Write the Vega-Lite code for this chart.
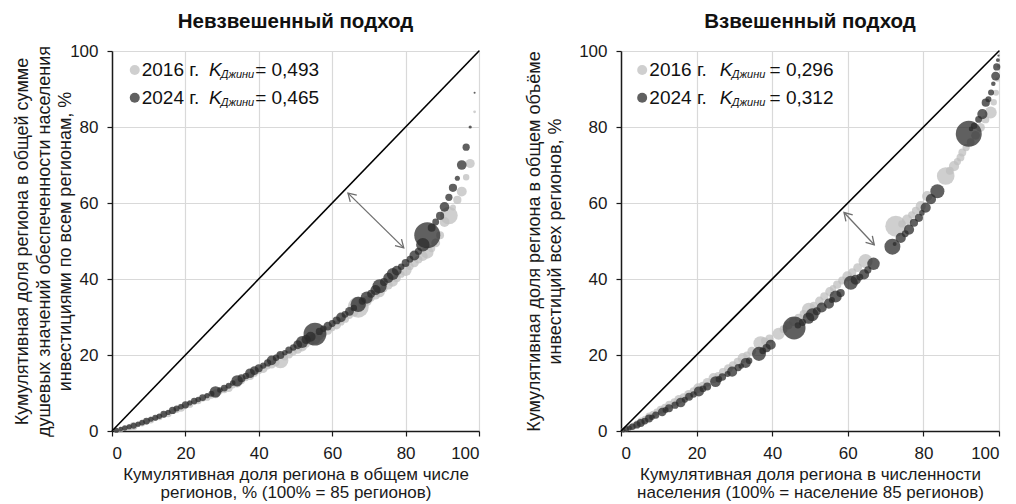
{
"$schema": "https://vega.github.io/schema/vega-lite/v6.json",
"padding": {"left": 13, "top": 11, "right": 5, "bottom": 2},
"spacing": 42,
"config": {
  "font": "Liberation Sans",
  "view": {"stroke": null},
  "axis": {"labelFont": "Liberation Sans", "labelFontSize": 17, "labelColor": "#1a1a1a", "labelPadding": 9,
           "titleFont": "Liberation Sans", "titleFontWeight": "normal", "titleColor": "#1a1a1a",
           "gridColor": "#d9d9d9", "gridWidth": 1.2, "domainColor": "#1a1a1a", "domainWidth": 1.5,
           "tickColor": "#1a1a1a", "tickSize": 5, "tickWidth": 1.2},
  "axisX": {"titleFontSize": 17, "titleLineHeight": 18.5, "titlePadding": 5, "labelPadding": 9},
  "axisY": {"titleFontSize": 18, "titleLineHeight": 21.5},
  "title": {"font": "Liberation Sans", "fontSize": 20.5, "fontWeight": "bold", "color": "#111111", "offset": 10}
},
"datasets": {
  "L": [
    {"yr":"2016","x":1.2,"y":0.2,"p":0.5},{"yr":"2016","x":2.4,"y":0.4,"p":0.6},{"yr":"2016","x":3.5,"y":0.7,"p":0.4},{"yr":"2016","x":4.7,"y":1.0,"p":0.8},{"yr":"2016","x":5.9,"y":1.3,"p":1.2},
    {"yr":"2016","x":7.1,"y":1.7,"p":0.5},{"yr":"2016","x":8.2,"y":2.0,"p":0.7},{"yr":"2016","x":9.4,"y":2.4,"p":0.6},{"yr":"2016","x":10.6,"y":2.9,"p":0.9},{"yr":"2016","x":11.8,"y":3.3,"p":0.5},
    {"yr":"2016","x":12.9,"y":3.7,"p":0.8},{"yr":"2016","x":14.1,"y":4.2,"p":0.6},{"yr":"2016","x":15.3,"y":4.6,"p":1.0},{"yr":"2016","x":16.5,"y":5.1,"p":0.5},{"yr":"2016","x":17.6,"y":5.6,"p":0.8},
    {"yr":"2016","x":18.8,"y":6.1,"p":1.2},{"yr":"2016","x":20.0,"y":6.6,"p":0.6},{"yr":"2016","x":21.2,"y":7.0,"p":0.9},{"yr":"2016","x":22.4,"y":7.5,"p":0.5},{"yr":"2016","x":23.5,"y":7.9,"p":0.8},
    {"yr":"2016","x":24.7,"y":8.4,"p":0.6},{"yr":"2016","x":25.9,"y":8.9,"p":1.0},{"yr":"2016","x":27.1,"y":9.3,"p":0.7},{"yr":"2016","x":28.2,"y":9.8,"p":1.5},{"yr":"2016","x":29.4,"y":10.3,"p":0.6},
    {"yr":"2016","x":30.6,"y":10.8,"p":0.8},{"yr":"2016","x":31.8,"y":11.3,"p":1.2},{"yr":"2016","x":32.9,"y":12.0,"p":0.7},{"yr":"2016","x":34.1,"y":12.6,"p":1.5},{"yr":"2016","x":35.3,"y":13.2,"p":0.9},
    {"yr":"2016","x":36.5,"y":13.8,"p":0.6},{"yr":"2016","x":37.6,"y":14.5,"p":1.3},{"yr":"2016","x":38.8,"y":15.2,"p":1.0},{"yr":"2016","x":40.0,"y":15.8,"p":0.8},{"yr":"2016","x":41.2,"y":16.4,"p":1.4},
    {"yr":"2016","x":42.4,"y":17.0,"p":0.7},{"yr":"2016","x":43.5,"y":17.5,"p":1.2},{"yr":"2016","x":44.7,"y":18.0,"p":1.0},{"yr":"2016","x":45.9,"y":18.6,"p":4.9},{"yr":"2016","x":47.1,"y":19.4,"p":0.8},
    {"yr":"2016","x":48.2,"y":20.1,"p":1.2},{"yr":"2016","x":49.4,"y":20.8,"p":0.9},{"yr":"2016","x":50.6,"y":21.5,"p":1.5},{"yr":"2016","x":51.8,"y":22.2,"p":1.8},{"yr":"2016","x":52.9,"y":22.9,"p":1.0},
    {"yr":"2016","x":54.1,"y":23.6,"p":1.2},{"yr":"2016","x":55.3,"y":24.3,"p":2.5},{"yr":"2016","x":56.5,"y":25.0,"p":1.5},{"yr":"2016","x":57.6,"y":25.7,"p":1.0},{"yr":"2016","x":58.8,"y":26.4,"p":1.3},
    {"yr":"2016","x":60.0,"y":27.1,"p":0.8},{"yr":"2016","x":61.2,"y":27.9,"p":1.5},{"yr":"2016","x":62.4,"y":28.7,"p":1.0},{"yr":"2016","x":63.5,"y":29.5,"p":1.2},{"yr":"2016","x":64.7,"y":30.4,"p":0.9},
    {"yr":"2016","x":65.9,"y":31.3,"p":1.6},{"yr":"2016","x":67.1,"y":32.6,"p":8.5},{"yr":"2016","x":68.2,"y":33.4,"p":1.4},{"yr":"2016","x":69.4,"y":34.2,"p":2.0},{"yr":"2016","x":70.6,"y":35.0,"p":1.0},
    {"yr":"2016","x":71.8,"y":35.8,"p":1.6},{"yr":"2016","x":72.9,"y":36.6,"p":2.2},{"yr":"2016","x":74.1,"y":37.5,"p":1.0},{"yr":"2016","x":75.3,"y":38.4,"p":1.5},{"yr":"2016","x":76.5,"y":39.3,"p":2.0},
    {"yr":"2016","x":77.6,"y":40.2,"p":1.2},{"yr":"2016","x":78.8,"y":41.2,"p":0.9},{"yr":"2016","x":80.0,"y":42.4,"p":2.8},{"yr":"2016","x":81.2,"y":43.3,"p":1.0},{"yr":"2016","x":82.4,"y":44.2,"p":1.4},
    {"yr":"2016","x":83.5,"y":45.1,"p":1.2},{"yr":"2016","x":84.7,"y":46.0,"p":1.8},{"yr":"2016","x":85.9,"y":47.0,"p":3.0},{"yr":"2016","x":87.1,"y":48.0,"p":1.0},{"yr":"2016","x":88.2,"y":49.5,"p":1.5},
    {"yr":"2016","x":89.4,"y":51.5,"p":1.2},{"yr":"2016","x":90.6,"y":55.0,"p":1.9},{"yr":"2016","x":91.8,"y":56.7,"p":6.0},{"yr":"2016","x":92.9,"y":58.8,"p":0.7},{"yr":"2016","x":94.1,"y":60.8,"p":1.3},
    {"yr":"2016","x":95.3,"y":63.0,"p":1.9},{"yr":"2016","x":96.5,"y":66.8,"p":0.8},{"yr":"2016","x":97.6,"y":70.4,"p":1.6},{"yr":"2016","x":98.8,"y":84.0,"p":0.15},{"yr":"2016","x":100,"y":100,"p":0.05},
    {"yr":"2024","x":1.2,"y":0.2,"p":0.5},{"yr":"2024","x":2.4,"y":0.5,"p":0.4},{"yr":"2024","x":3.5,"y":0.8,"p":0.6},{"yr":"2024","x":4.7,"y":1.1,"p":0.5},{"yr":"2024","x":5.9,"y":1.4,"p":0.7},
    {"yr":"2024","x":7.1,"y":1.8,"p":0.5},{"yr":"2024","x":8.2,"y":2.2,"p":0.6},{"yr":"2024","x":9.4,"y":2.6,"p":0.9},{"yr":"2024","x":10.6,"y":3.1,"p":0.5},{"yr":"2024","x":11.8,"y":3.5,"p":0.7},
    {"yr":"2024","x":12.9,"y":3.9,"p":0.6},{"yr":"2024","x":14.1,"y":4.4,"p":0.9},{"yr":"2024","x":15.3,"y":4.9,"p":0.5},{"yr":"2024","x":16.5,"y":5.4,"p":1.0},{"yr":"2024","x":17.6,"y":5.9,"p":0.7},
    {"yr":"2024","x":18.8,"y":6.4,"p":0.6},{"yr":"2024","x":20.0,"y":6.9,"p":1.0},{"yr":"2024","x":21.2,"y":7.4,"p":0.5},{"yr":"2024","x":22.4,"y":7.9,"p":0.8},{"yr":"2024","x":23.5,"y":8.3,"p":0.6},
    {"yr":"2024","x":24.7,"y":8.8,"p":0.9},{"yr":"2024","x":25.9,"y":9.3,"p":0.5},{"yr":"2024","x":27.1,"y":9.8,"p":0.7},{"yr":"2024","x":28.2,"y":10.3,"p":2.5},{"yr":"2024","x":29.4,"y":10.8,"p":0.6},
    {"yr":"2024","x":30.6,"y":11.3,"p":0.9},{"yr":"2024","x":31.8,"y":11.9,"p":0.7},{"yr":"2024","x":32.9,"y":12.6,"p":0.6},{"yr":"2024","x":34.1,"y":13.2,"p":2.5},{"yr":"2024","x":35.3,"y":13.9,"p":1.2},
    {"yr":"2024","x":36.5,"y":14.5,"p":0.8},{"yr":"2024","x":37.6,"y":15.2,"p":1.8},{"yr":"2024","x":38.8,"y":15.9,"p":1.5},{"yr":"2024","x":40.0,"y":16.5,"p":1.2},{"yr":"2024","x":41.2,"y":17.2,"p":0.7},
    {"yr":"2024","x":42.4,"y":17.9,"p":1.0},{"yr":"2024","x":43.5,"y":18.6,"p":1.8},{"yr":"2024","x":44.7,"y":19.3,"p":0.8},{"yr":"2024","x":45.9,"y":20.0,"p":1.2},{"yr":"2024","x":47.1,"y":20.6,"p":0.6},
    {"yr":"2024","x":48.2,"y":21.3,"p":1.0},{"yr":"2024","x":49.4,"y":22.0,"p":0.8},{"yr":"2024","x":50.6,"y":22.7,"p":1.5},{"yr":"2024","x":51.8,"y":23.4,"p":2.8},{"yr":"2024","x":52.9,"y":24.1,"p":1.6},
    {"yr":"2024","x":54.1,"y":24.8,"p":2.0},{"yr":"2024","x":55.3,"y":25.5,"p":10},{"yr":"2024","x":56.5,"y":26.2,"p":1.0},{"yr":"2024","x":57.6,"y":26.9,"p":0.8},{"yr":"2024","x":58.8,"y":27.6,"p":1.4},
    {"yr":"2024","x":60.0,"y":28.3,"p":0.9},{"yr":"2024","x":61.2,"y":29.1,"p":1.2},{"yr":"2024","x":62.4,"y":29.9,"p":1.8},{"yr":"2024","x":63.5,"y":30.7,"p":0.9},{"yr":"2024","x":64.7,"y":31.5,"p":1.5},
    {"yr":"2024","x":65.9,"y":32.4,"p":0.8},{"yr":"2024","x":67.1,"y":33.3,"p":4.5},{"yr":"2024","x":68.2,"y":34.2,"p":1.0},{"yr":"2024","x":69.4,"y":35.1,"p":2.8},{"yr":"2024","x":70.6,"y":36.1,"p":1.2},
    {"yr":"2024","x":71.8,"y":37.1,"p":2.0},{"yr":"2024","x":72.9,"y":38.1,"p":3.8},{"yr":"2024","x":74.1,"y":39.2,"p":1.2},{"yr":"2024","x":75.3,"y":40.3,"p":2.0},{"yr":"2024","x":76.5,"y":41.3,"p":2.8},
    {"yr":"2024","x":77.6,"y":42.2,"p":1.8},{"yr":"2024","x":78.8,"y":43.2,"p":0.8},{"yr":"2024","x":80.0,"y":44.2,"p":1.2},{"yr":"2024","x":81.2,"y":45.2,"p":0.9},{"yr":"2024","x":82.4,"y":46.2,"p":1.9},
    {"yr":"2024","x":83.5,"y":47.3,"p":1.0},{"yr":"2024","x":84.7,"y":49.0,"p":3.5},{"yr":"2024","x":85.9,"y":51.5,"p":13},{"yr":"2024","x":87.1,"y":53.5,"p":1.2},{"yr":"2024","x":88.2,"y":55.0,"p":0.9},
    {"yr":"2024","x":89.4,"y":56.6,"p":1.3},{"yr":"2024","x":90.6,"y":59.0,"p":1.8},{"yr":"2024","x":91.8,"y":61.5,"p":1.0},{"yr":"2024","x":92.9,"y":64.0,"p":1.3},{"yr":"2024","x":94.1,"y":66.5,"p":0.5},
    {"yr":"2024","x":95.3,"y":70.0,"p":1.8},{"yr":"2024","x":96.5,"y":74.7,"p":1.0},{"yr":"2024","x":97.6,"y":80.0,"p":0.2},{"yr":"2024","x":98.8,"y":89.0,"p":0.08},{"yr":"2024","x":100,"y":100,"p":0.05}
  ],
  "R": [
    {"yr":"2016","x":0.7,"y":0.3,"p":0.5},{"yr":"2016","x":1.5,"y":0.6,"p":0.6},{"yr":"2016","x":2.4,"y":1.0,"p":0.7},{"yr":"2016","x":3.3,"y":1.4,"p":0.8},{"yr":"2016","x":4.3,"y":1.9,"p":1.0},
    {"yr":"2016","x":5.4,"y":2.5,"p":1.2},{"yr":"2016","x":6.4,"y":3.1,"p":0.9},{"yr":"2016","x":7.5,"y":3.8,"p":1.2},{"yr":"2016","x":8.5,"y":4.4,"p":1.0},{"yr":"2016","x":9.5,"y":5.0,"p":0.9},
    {"yr":"2016","x":10.5,"y":5.6,"p":1.2},{"yr":"2016","x":11.6,"y":6.2,"p":1.0},{"yr":"2016","x":12.8,"y":6.9,"p":1.3},{"yr":"2016","x":14.1,"y":7.6,"p":1.1},{"yr":"2016","x":15.3,"y":8.3,"p":1.5},
    {"yr":"2016","x":16.5,"y":9.0,"p":1.0},{"yr":"2016","x":17.9,"y":9.6,"p":1.6},{"yr":"2016","x":19.2,"y":10.5,"p":1.2},{"yr":"2016","x":20.4,"y":11.3,"p":1.8},{"yr":"2016","x":21.6,"y":12.0,"p":1.0},
    {"yr":"2016","x":22.8,"y":12.8,"p":1.5},{"yr":"2016","x":24.5,"y":13.9,"p":2.0},{"yr":"2016","x":25.7,"y":14.6,"p":1.0},{"yr":"2016","x":27.0,"y":15.5,"p":1.3},{"yr":"2016","x":28.4,"y":16.4,"p":1.5},
    {"yr":"2016","x":29.6,"y":17.3,"p":1.2},{"yr":"2016","x":30.9,"y":18.2,"p":1.3},{"yr":"2016","x":32.2,"y":19.2,"p":2.0},{"yr":"2016","x":33.3,"y":20.0,"p":1.0},{"yr":"2016","x":34.6,"y":21.0,"p":1.5},
    {"yr":"2016","x":36.9,"y":23.1,"p":3.8},{"yr":"2016","x":38.0,"y":23.7,"p":1.0},{"yr":"2016","x":39.3,"y":24.3,"p":1.3},{"yr":"2016","x":41.7,"y":25.6,"p":2.8},{"yr":"2016","x":43.0,"y":26.8,"p":1.2},
    {"yr":"2016","x":44.3,"y":27.8,"p":1.3},{"yr":"2016","x":45.6,"y":28.8,"p":1.5},{"yr":"2016","x":47.0,"y":29.8,"p":1.3},{"yr":"2016","x":48.3,"y":30.8,"p":1.2},{"yr":"2016","x":49.7,"y":31.9,"p":3.8},
    {"yr":"2016","x":51.0,"y":33.0,"p":1.2},{"yr":"2016","x":52.5,"y":34.2,"p":1.5},{"yr":"2016","x":53.8,"y":35.4,"p":1.3},{"yr":"2016","x":55.2,"y":36.7,"p":1.5},{"yr":"2016","x":56.1,"y":37.6,"p":0.8},
    {"yr":"2016","x":57.2,"y":38.5,"p":1.3},{"yr":"2016","x":58.5,"y":39.6,"p":1.2},{"yr":"2016","x":59.9,"y":40.7,"p":2.0},{"yr":"2016","x":61.2,"y":41.8,"p":1.2},{"yr":"2016","x":62.6,"y":43.0,"p":1.5},
    {"yr":"2016","x":64.7,"y":44.7,"p":3.8},{"yr":"2016","x":72.7,"y":53.9,"p":8.5},{"yr":"2016","x":74.3,"y":54.5,"p":1.0},{"yr":"2016","x":75.7,"y":55.6,"p":2.0},{"yr":"2016","x":76.9,"y":56.9,"p":1.0},
    {"yr":"2016","x":78.0,"y":58.0,"p":1.2},{"yr":"2016","x":79.3,"y":59.2,"p":2.0},{"yr":"2016","x":81.0,"y":61.8,"p":2.0},{"yr":"2016","x":85.9,"y":67.1,"p":6.0},{"yr":"2016","x":87.0,"y":68.5,"p":1.2},
    {"yr":"2016","x":88.1,"y":69.7,"p":2.0},{"yr":"2016","x":89.0,"y":70.9,"p":1.0},{"yr":"2016","x":89.8,"y":72.0,"p":1.2},{"yr":"2016","x":90.3,"y":73.3,"p":1.2},{"yr":"2016","x":91.3,"y":74.6,"p":1.0},
    {"yr":"2016","x":92.5,"y":76.0,"p":1.2},{"yr":"2016","x":93.8,"y":77.8,"p":1.5},{"yr":"2016","x":95.1,"y":79.9,"p":1.5},{"yr":"2016","x":96.4,"y":82.0,"p":1.2},{"yr":"2016","x":97.8,"y":83.8,"p":2.8},
    {"yr":"2016","x":98.6,"y":86.5,"p":0.8},{"yr":"2016","x":99.2,"y":89.0,"p":0.7},{"yr":"2016","x":99.6,"y":92.5,"p":0.4},{"yr":"2016","x":99.85,"y":96.0,"p":0.2},{"yr":"2016","x":100,"y":100,"p":0.05},
    {"yr":"2024","x":0.6,"y":0.2,"p":0.4},{"yr":"2024","x":1.4,"y":0.5,"p":0.6},{"yr":"2024","x":2.2,"y":0.8,"p":0.5},{"yr":"2024","x":3.0,"y":1.1,"p":0.8},{"yr":"2024","x":4.2,"y":1.6,"p":1.0},
    {"yr":"2024","x":5.2,"y":2.1,"p":1.2},{"yr":"2024","x":6.3,"y":2.6,"p":0.9},{"yr":"2024","x":7.4,"y":3.3,"p":1.2},{"yr":"2024","x":8.2,"y":3.6,"p":0.6},{"yr":"2024","x":9.2,"y":4.2,"p":1.0},
    {"yr":"2024","x":10.9,"y":5.0,"p":1.4},{"yr":"2024","x":11.8,"y":5.5,"p":0.7},{"yr":"2024","x":12.7,"y":6.0,"p":1.2},{"yr":"2024","x":14.3,"y":6.8,"p":1.0},{"yr":"2024","x":15.8,"y":7.5,"p":1.8},
    {"yr":"2024","x":16.9,"y":8.2,"p":0.7},{"yr":"2024","x":18.0,"y":9.0,"p":1.2},{"yr":"2024","x":19.2,"y":9.6,"p":0.8},{"yr":"2024","x":20.6,"y":10.4,"p":2.0},{"yr":"2024","x":21.7,"y":11.1,"p":0.9},
    {"yr":"2024","x":22.8,"y":11.7,"p":1.2},{"yr":"2024","x":25.0,"y":13.0,"p":2.2},{"yr":"2024","x":25.9,"y":13.6,"p":0.8},{"yr":"2024","x":26.8,"y":14.2,"p":1.1},{"yr":"2024","x":28.2,"y":15.0,"p":0.7},
    {"yr":"2024","x":29.4,"y":15.6,"p":2.0},{"yr":"2024","x":31.0,"y":16.7,"p":1.0},{"yr":"2024","x":31.8,"y":17.1,"p":0.6},{"yr":"2024","x":33.0,"y":17.9,"p":2.0},{"yr":"2024","x":33.9,"y":18.5,"p":0.8},
    {"yr":"2024","x":36.5,"y":20.3,"p":3.8},{"yr":"2024","x":37.5,"y":21.1,"p":0.9},{"yr":"2024","x":38.5,"y":21.8,"p":1.3},{"yr":"2024","x":39.6,"y":22.7,"p":2.0},{"yr":"2024","x":45.8,"y":27.1,"p":10},
    {"yr":"2024","x":46.8,"y":27.8,"p":0.8},{"yr":"2024","x":48.0,"y":28.6,"p":1.0},{"yr":"2024","x":49.6,"y":29.7,"p":2.5},{"yr":"2024","x":50.6,"y":30.6,"p":3.2},{"yr":"2024","x":51.8,"y":31.5,"p":1.2},
    {"yr":"2024","x":53.1,"y":32.5,"p":2.0},{"yr":"2024","x":55.0,"y":33.5,"p":2.0},{"yr":"2024","x":55.8,"y":34.5,"p":0.7},{"yr":"2024","x":56.8,"y":35.4,"p":2.8},{"yr":"2024","x":58.1,"y":36.3,"p":1.3},
    {"yr":"2024","x":60.8,"y":39.0,"p":3.8},{"yr":"2024","x":62.1,"y":39.8,"p":2.0},{"yr":"2024","x":63.2,"y":40.5,"p":0.9},{"yr":"2024","x":64.3,"y":41.2,"p":2.0},{"yr":"2024","x":65.3,"y":42.4,"p":1.0},
    {"yr":"2024","x":66.8,"y":44.0,"p":3.0},{"yr":"2024","x":71.8,"y":48.5,"p":4.9},{"yr":"2024","x":72.4,"y":49.2,"p":0.3},{"yr":"2024","x":74.0,"y":50.8,"p":2.0},{"yr":"2024","x":75.2,"y":51.9,"p":0.9},
    {"yr":"2024","x":76.2,"y":53.0,"p":2.0},{"yr":"2024","x":77.5,"y":54.8,"p":1.3},{"yr":"2024","x":78.8,"y":56.1,"p":1.3},{"yr":"2024","x":79.6,"y":57.4,"p":0.6},{"yr":"2024","x":80.6,"y":58.8,"p":2.0},
    {"yr":"2024","x":82.0,"y":61.0,"p":2.0},{"yr":"2024","x":83.7,"y":63.1,"p":3.8},{"yr":"2024","x":92.0,"y":78.2,"p":13},{"yr":"2024","x":92.6,"y":79.5,"p":0.4},{"yr":"2024","x":93.4,"y":80.3,"p":0.8},
    {"yr":"2024","x":94.6,"y":82.0,"p":0.9},{"yr":"2024","x":95.6,"y":83.4,"p":2.0},{"yr":"2024","x":96.5,"y":86.4,"p":1.3},{"yr":"2024","x":97.2,"y":87.3,"p":0.7},{"yr":"2024","x":97.9,"y":89.1,"p":0.7},
    {"yr":"2024","x":98.5,"y":91.4,"p":0.4},{"yr":"2024","x":99.1,"y":93.4,"p":1.5},{"yr":"2024","x":99.4,"y":95.8,"p":1.0},{"yr":"2024","x":99.7,"y":97.6,"p":0.3},{"yr":"2024","x":99.85,"y":98.8,"p":0.1},
    {"yr":"2024","x":100,"y":100,"p":0.05}
  ],
  "diag": [{"x":0,"y":0},{"x":100,"y":100}],
  "arrL": [{"x":64.3,"y":62.6,"e":"a"},{"x":79.5,"y":48.2,"e":"b"}],
  "arrR": [{"x":59.0,"y":57.5,"e":"a"},{"x":67.0,"y":49.0,"e":"b"}],
  "legL": [{"yr":"2016","ly":95,"t":"2016 г.","g":"= 0,493"},{"yr":"2024","ly":87.7,"t":"2024 г.","g":"= 0,465"}],
  "legR": [{"yr":"2016","ly":95,"t":"2016 г.","g":"= 0,296"},{"yr":"2024","ly":87.7,"t":"2024 г.","g":"= 0,312"}]
},
"hconcat": [
  {
    "width": 367, "height": 380,
    "title": {"text": "Невзвешенный подход"},
    "layer": [
      {"data": {"name": "L"}, "mark": {"type": "circle", "opacity": 0.75},
       "encoding": {
         "x": {"field": "x", "type": "quantitative", "scale": {"domain": [0, 100], "nice": false},
               "axis": {"values": [0,20,40,60,80,100], "title": ["Кумулятивная доля региона в общем числе", "регионов, % (100% = 85 регионов)"]}},
         "y": {"field": "y", "type": "quantitative", "scale": {"domain": [0, 100], "nice": false},
               "axis": {"values": [0,20,40,60,80,100], "titlePadding": -5, "title": ["Кумулятивная доля региона в общей сумме", "душевых значений обеспеченности населения", "инвестициями по всем регионам, %"]}},
         "size": {"field": "p", "type": "quantitative", "scale": {"domain": [0, 13], "range": [0, 676]}, "legend": null},
         "color": {"field": "yr", "type": "nominal", "scale": {"domain": ["2016", "2024"], "range": ["#bfbfbf", "#2b2b2b"]}, "legend": null}
       }},
      {"data": {"name": "diag"}, "mark": {"type": "line", "color": "#000000", "strokeWidth": 1.6},
       "encoding": {"x": {"field": "x", "type": "quantitative"}, "y": {"field": "y", "type": "quantitative"}}},
      {"data": {"name": "arrL"}, "mark": {"type": "line", "color": "#6e6e6e", "strokeWidth": 1.3},
       "encoding": {"x": {"field": "x", "type": "quantitative"}, "y": {"field": "y", "type": "quantitative"}}},
      {"data": {"name": "arrL"}, "transform": [{"filter": "datum.e == 'a'"}],
       "mark": {"type": "point", "shape": "M-0.6,1L0,0L0.6,1", "filled": false, "size": 240, "angle": -45.6, "stroke": "#6e6e6e", "strokeWidth": 1.3, "opacity": 1},
       "encoding": {"x": {"field": "x", "type": "quantitative"}, "y": {"field": "y", "type": "quantitative"}}},
      {"data": {"name": "arrL"}, "transform": [{"filter": "datum.e == 'b'"}],
       "mark": {"type": "point", "shape": "M-0.6,1L0,0L0.6,1", "filled": false, "size": 240, "angle": 134.4, "stroke": "#6e6e6e", "strokeWidth": 1.3, "opacity": 1},
       "encoding": {"x": {"field": "x", "type": "quantitative"}, "y": {"field": "y", "type": "quantitative"}}},
      {"data": {"name": "legL"}, "mark": {"type": "circle", "opacity": 0.75, "size": 100},
       "encoding": {"x": {"datum": 6.2, "type": "quantitative"}, "y": {"field": "ly", "type": "quantitative"},
                    "color": {"field": "yr", "type": "nominal", "legend": null}}},
      {"data": {"name": "legL"}, "mark": {"type": "text", "align": "left", "baseline": "middle", "fontSize": 19, "color": "#111111"},
       "encoding": {"x": {"datum": 8.1, "type": "quantitative"}, "y": {"field": "ly", "type": "quantitative"}, "text": {"field": "t"}}},
      {"data": {"name": "legL"}, "mark": {"type": "text", "align": "left", "baseline": "middle", "fontSize": 19, "fontStyle": "italic", "color": "#111111"},
       "encoding": {"x": {"datum": 26.4, "type": "quantitative"}, "y": {"field": "ly", "type": "quantitative"}, "text": {"value": "K"}}},
      {"data": {"name": "legL"}, "mark": {"type": "text", "align": "left", "baseline": "middle", "fontSize": 11, "fontStyle": "italic", "dy": 5, "color": "#111111"},
       "encoding": {"x": {"datum": 29.6, "type": "quantitative"}, "y": {"field": "ly", "type": "quantitative"}, "text": {"value": "Джини"}}},
      {"data": {"name": "legL"}, "mark": {"type": "text", "align": "left", "baseline": "middle", "fontSize": 19, "color": "#111111"},
       "encoding": {"x": {"datum": 39.0, "type": "quantitative"}, "y": {"field": "ly", "type": "quantitative"}, "text": {"field": "g"}}}
    ]
  },
  {
    "width": 378, "height": 380,
    "title": {"text": "Взвешенный подход"},
    "layer": [
      {"data": {"name": "R"}, "mark": {"type": "circle", "opacity": 0.75},
       "encoding": {
         "x": {"field": "x", "type": "quantitative", "scale": {"domain": [0, 100], "nice": false},
               "axis": {"values": [0,20,40,60,80,100], "title": ["Кумулятивная доля региона в численности", "населения (100% = население 85 регионов)"]}},
         "y": {"field": "y", "type": "quantitative", "scale": {"domain": [0, 100], "nice": false},
               "axis": {"values": [0,20,40,60,80,100], "titlePadding": 14, "title": ["Кумулятивная доля региона в общем объёме", "инвестиций всех регионов, %"]}},
         "size": {"field": "p", "type": "quantitative", "scale": {"domain": [0, 13], "range": [0, 676]}, "legend": null},
         "color": {"field": "yr", "type": "nominal", "scale": {"domain": ["2016", "2024"], "range": ["#bfbfbf", "#2b2b2b"]}, "legend": null}
       }},
      {"data": {"name": "diag"}, "mark": {"type": "line", "color": "#000000", "strokeWidth": 1.6},
       "encoding": {"x": {"field": "x", "type": "quantitative"}, "y": {"field": "y", "type": "quantitative"}}},
      {"data": {"name": "arrR"}, "mark": {"type": "line", "color": "#6e6e6e", "strokeWidth": 1.3},
       "encoding": {"x": {"field": "x", "type": "quantitative"}, "y": {"field": "y", "type": "quantitative"}}},
      {"data": {"name": "arrR"}, "transform": [{"filter": "datum.e == 'a'"}],
       "mark": {"type": "point", "shape": "M-0.6,1L0,0L0.6,1", "filled": false, "size": 240, "angle": -43.2, "stroke": "#6e6e6e", "strokeWidth": 1.3, "opacity": 1},
       "encoding": {"x": {"field": "x", "type": "quantitative"}, "y": {"field": "y", "type": "quantitative"}}},
      {"data": {"name": "arrR"}, "transform": [{"filter": "datum.e == 'b'"}],
       "mark": {"type": "point", "shape": "M-0.6,1L0,0L0.6,1", "filled": false, "size": 240, "angle": 136.8, "stroke": "#6e6e6e", "strokeWidth": 1.3, "opacity": 1},
       "encoding": {"x": {"field": "x", "type": "quantitative"}, "y": {"field": "y", "type": "quantitative"}}},
      {"data": {"name": "legR"}, "mark": {"type": "circle", "opacity": 0.75, "size": 100},
       "encoding": {"x": {"datum": 5.6, "type": "quantitative"}, "y": {"field": "ly", "type": "quantitative"},
                    "color": {"field": "yr", "type": "nominal", "legend": null}}},
      {"data": {"name": "legR"}, "mark": {"type": "text", "align": "left", "baseline": "middle", "fontSize": 19, "color": "#111111"},
       "encoding": {"x": {"datum": 7.5, "type": "quantitative"}, "y": {"field": "ly", "type": "quantitative"}, "text": {"field": "t"}}},
      {"data": {"name": "legR"}, "mark": {"type": "text", "align": "left", "baseline": "middle", "fontSize": 19, "fontStyle": "italic", "color": "#111111"},
       "encoding": {"x": {"datum": 26.1, "type": "quantitative"}, "y": {"field": "ly", "type": "quantitative"}, "text": {"value": "K"}}},
      {"data": {"name": "legR"}, "mark": {"type": "text", "align": "left", "baseline": "middle", "fontSize": 11, "fontStyle": "italic", "dy": 5, "color": "#111111"},
       "encoding": {"x": {"datum": 29.3, "type": "quantitative"}, "y": {"field": "ly", "type": "quantitative"}, "text": {"value": "Джини"}}},
      {"data": {"name": "legR"}, "mark": {"type": "text", "align": "left", "baseline": "middle", "fontSize": 19, "color": "#111111"},
       "encoding": {"x": {"datum": 39.3, "type": "quantitative"}, "y": {"field": "ly", "type": "quantitative"}, "text": {"field": "g"}}}
    ]
  }
]
}
